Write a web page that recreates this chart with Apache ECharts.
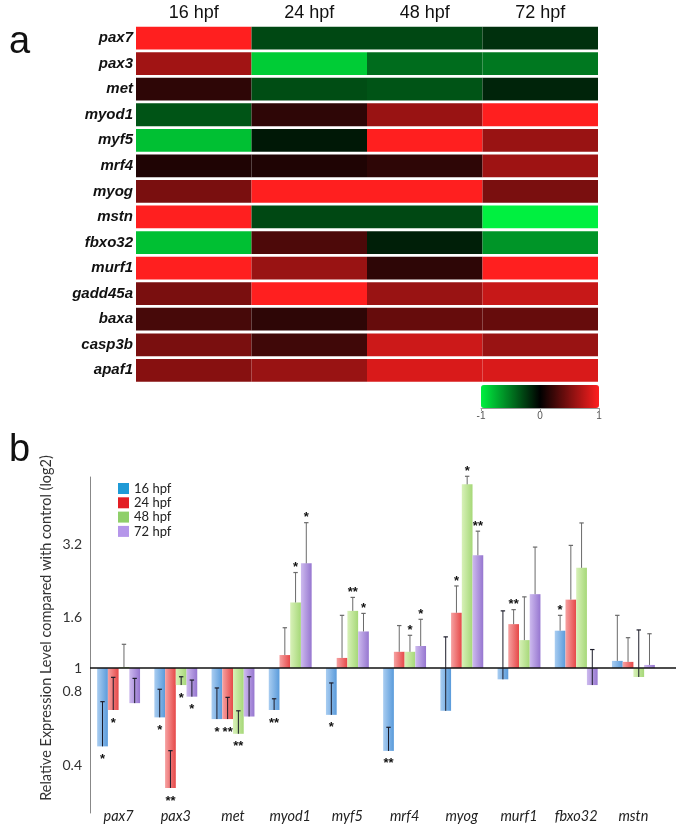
<!DOCTYPE html>
<html><head><meta charset="utf-8">
<script src="https://cdn.jsdelivr.net/npm/echarts@6/dist/echarts.min.js"></script>
<style>html,body{margin:0;padding:0;background:#fff}#c{width:685px;height:835px}</style>
</head><body><div id="c"></div><script>
// ---------- panel a: heat map ----------
const genes = ['pax7','pax3','met','myod1','myf5','mrf4','myog','mstn','fbxo32','murf1','gadd45a','baxa','casp3b','apaf1'];
const stages = ['16 hpf','24 hpf','48 hpf','72 hpf'];
const heat16 = [1, 0.63, 0.18, -0.35, -0.8, 0.12, 0.48, 1, -0.8, 1, 0.48, 0.28, 0.48, 0.53];
const heat24 = [-0.3, -0.85, -0.32, 0.18, -0.1, 0.12, 1, -0.3, 0.3, 0.6, 1, 0.18, 0.25, 0.6];
const heat48 = [-0.3, -0.45, -0.35, 0.6, 1, 0.18, 1, -0.3, -0.13, 0.18, 0.6, 0.4, 0.8, 0.85];
const heat72 = [-0.2, -0.5, -0.15, 1, 0.6, 0.62, 0.48, -1, -0.62, 1, 0.78, 0.4, 0.6, 0.85];
const colorTicks = [-1, 0, 1];

// ---------- panel b: bar chart (fold change, log2 axis) ----------
const barGenes = ['pax7','pax3','met','myod1','myf5','mrf4','myog','murf1','fbxo32','mstn'];
const fc16 = [0.48, 0.63, 0.62, 0.675, 0.645, 0.46, 0.67, 0.90, 1.42, 1.07];
const fc24 = [0.675, 0.325, 0.62, 1.13, 1.10, 1.165, 1.68, 1.51, 1.90, 1.06];
const fc48 = [1.01, 0.853, 0.54, 1.85, 1.71, 1.165, 5.6, 1.30, 2.56, 0.92];
const fc72 = [0.72, 0.765, 0.635, 2.67, 1.41, 1.23, 2.88, 2.0, 0.853, 1.03];
const err16 = [0.73, 0.82, 0.83, 0.75, 0.87, 0.574, 1.34, 1.71, 1.64, 1.64];
const err24 = [0.917, 0.461, 0.76, 1.46, 1.64, 1.49, 2.16, 1.73, 3.16, 1.33];
const err48 = [1.25, 0.922, 0.67, 2.45, 1.94, 1.36, 6.04, 1.95, 3.9, 1.43];
const err72 = [0.908, 0.894, 0.922, 3.91, 1.67, 1.58, 3.61, 3.11, 1.19, 1.38];
const sig16 = ['*','*','*','**','*','**','','','*',''];
const sig24 = ['*','**','**','','','','*','**','',''];
const sig48 = ['','*','**','*','**','*','*','','',''];
const sig72 = ['','*','','*','*','*','**','','',''];
const yTicks = [0.4, 0.8, 1, 1.6, 3.2];
const yTitle = 'Relative Expression Level compared with control (log2)';

const heatCols = [heat16, heat24, heat48, heat72];
const heatData = [];
heatCols.forEach((col, ci) => col.forEach((v, ri) => heatData.push([ci, ri, v])));

const fcAll = [fc16, fc24, fc48, fc72];
const errAll = [err16, err24, err48, err72];
const sigAll = [sig16, sig24, sig48, sig72];
const errData = [];
const errSig = [];
fcAll.forEach((arr, k) => arr.forEach((v, ci) => { errData.push([ci, k, v, errAll[k][ci]]); errSig.push(sigAll[k][ci]); }));

const legendColors = ['#1f9ad6', '#e31e24', '#8fcf6a', '#b596ea'];
const barGrads = [['#a9cdf1', '#5a9bdb'], ['#f6a2a2', '#e64848'], ['#d8f1b8', '#a6d878'], ['#cdbaee', '#9676d0']];
function grad(c) {
  return {type: 'linear', x: 0, y: 0, x2: 1, y2: 0, colorStops: [{offset: 0, color: c[0]}, {offset: 1, color: c[1]}]};
}

const chart = echarts.init(document.getElementById('c'), null, {renderer: 'canvas'});
const barSeries = stages.map((s, k) => ({
  type: 'bar', name: s, xAxisIndex: 1, yAxisIndex: 1,
  data: fcAll[k], barGap: '0%', barCategoryGap: '25%',
  itemStyle: {color: grad(barGrads[k])},
  silent: true,
  markLine: k === 0 ? {silent: true, symbol: 'none', label: {show: false},
    lineStyle: {color: '#111', width: 1.5, type: 'solid'},
    data: [[{x: 90, yAxis: 1}, {x: 676, yAxis: 1}]]} : undefined
}));

chart.setOption({
  animation: false,
  textStyle: {fontFamily: 'Liberation Sans, Arial, sans-serif'},
  grid: [
    {left: 136, top: 25.3, width: 462, height: 357.8},
    {left: 90, top: 477, width: 572, height: 336},
    {left: 481, top: 385, width: 118, height: 23}
  ],
  xAxis: [
    {gridIndex: 0, type: 'category', data: stages, position: 'top',
     axisLine: {show: false}, axisTick: {show: false},
     axisLabel: {fontSize: 18, color: '#111', margin: 3}},
    {gridIndex: 1, type: 'category', data: barGenes, position: 'bottom',
     axisLine: {show: false, onZero: false}, axisTick: {show: false},
     axisLabel: {fontSize: 14.5, fontStyle: 'italic', color: '#222', fontFamily: 'Lato', margin: -4}},
    {gridIndex: 2, type: 'value', min: -1, max: 1, interval: 1, position: 'bottom',
     axisLine: {show: true, onZero: false, lineStyle: {color: '#999'}},
     axisTick: {show: true, length: 3, lineStyle: {color: '#999'}},
     splitLine: {show: false},
     axisLabel: {fontSize: 10, color: '#555', margin: 3, customValues: colorTicks}}
  ],
  yAxis: [
    {gridIndex: 0, type: 'category', data: genes, inverse: true,
     axisLine: {show: false}, axisTick: {show: false},
     axisLabel: {fontSize: 15, fontWeight: 'bold', fontStyle: 'italic', color: '#111', margin: 3}},
    {gridIndex: 1, type: 'log', logBase: 2, min: 0.257, max: 6.0,
     axisLine: {show: true, lineStyle: {color: '#888', width: 1}},
     axisTick: {show: false}, splitLine: {show: false},
     axisLabel: {fontSize: 14, color: '#333', fontFamily: 'Lato', margin: 8, customValues: yTicks,
       formatter: v => { const t = yTicks.find(x => Math.abs(x - v) < 1e-6); return t != null ? String(t) : String(v); }}},
    {gridIndex: 2, type: 'value', min: 0, max: 1, show: false}
  ],
  visualMap: {
    type: 'continuous', min: -1, max: 1, seriesIndex: 0, dimension: 2,
    orient: 'horizontal', left: 481, top: 385, itemWidth: 23, itemHeight: 118,
    calculable: false, padding: 0, text: null, hoverLink: false,
    inRange: {color: ['#00f040', '#000000', '#ff1f1f']}
  },
  legend: {
    orient: 'vertical', left: 118, top: 482, padding: 0, itemWidth: 11, itemHeight: 11, itemGap: 1.3,
    icon: 'rect', textStyle: {fontSize: 13, color: '#222', fontFamily: 'Lato'},
    data: stages.map((s, k) => ({name: s, itemStyle: {color: legendColors[k]}}))
  },
  graphic: [
    {type: 'text', left: 9, top: 24, style: {text: 'a', font: '38px Liberation Sans, Arial', fill: '#111'}},
    {type: 'text', left: 9, top: 432, style: {text: 'b', font: '38px Liberation Sans, Arial', fill: '#111'}},
    {type: 'text', x: 46, y: 628, rotation: Math.PI / 2,
     style: {text: yTitle, font: '14.5px Lato', fill: '#333', textAlign: 'center', textVerticalAlign: 'middle'}}
  ],
  series: [
    {type: 'custom', xAxisIndex: 0, yAxisIndex: 0, data: heatData, encode: {x: 0, y: 1}, silent: true,
     renderItem: (params, api) => {
       const p = api.coord([api.value(0), api.value(1)]);
       const s = api.size([1, 1]);
       return {type: 'rect', shape: {x: p[0] - s[0] / 2, y: p[1] - s[1] / 2 + 1.4, width: s[0], height: s[1] - 2.8},
         style: {fill: api.visual('color')}};
     }},
    ...barSeries,
    {type: 'custom', xAxisIndex: 1, yAxisIndex: 1, data: errData, encode: {x: 0, y: 2}, silent: true, z: 5,
     renderItem: (params, api) => {
       const cat = api.value(0), k = api.value(1), v = api.value(2), e = api.value(3);
       const band = api.size([1, 0])[0];
       const bw = band * 0.75 / 4;
       const x = api.coord([cat, 1])[0] + (k - 1.5) * bw;
       const yv = api.coord([cat, v])[1];
       const ye = api.coord([cat, e])[1];
       const col = v >= 1 ? '#6a6a6a' : '#1c1c2a';
       const children = [
         {type: 'line', shape: {x1: x, y1: yv, x2: x, y2: ye}, style: {stroke: col, lineWidth: 1}},
         {type: 'line', shape: {x1: x - 2.2, y1: ye, x2: x + 2.2, y2: ye}, style: {stroke: col, lineWidth: 1.2}}
       ];
       const sig = errSig[params.dataIndex];
       if (sig) {
         const ys = v >= 1 ? ye - 9 : yv + 9;
         children.push({type: 'text', x: x, y: ys + 4,
           style: {text: sig, font: 'bold 13px Liberation Sans, Arial', fill: '#111', textAlign: 'center', textVerticalAlign: 'middle'}});
       }
       return {type: 'group', children};
     }}
  ]
});
</script></body></html>
